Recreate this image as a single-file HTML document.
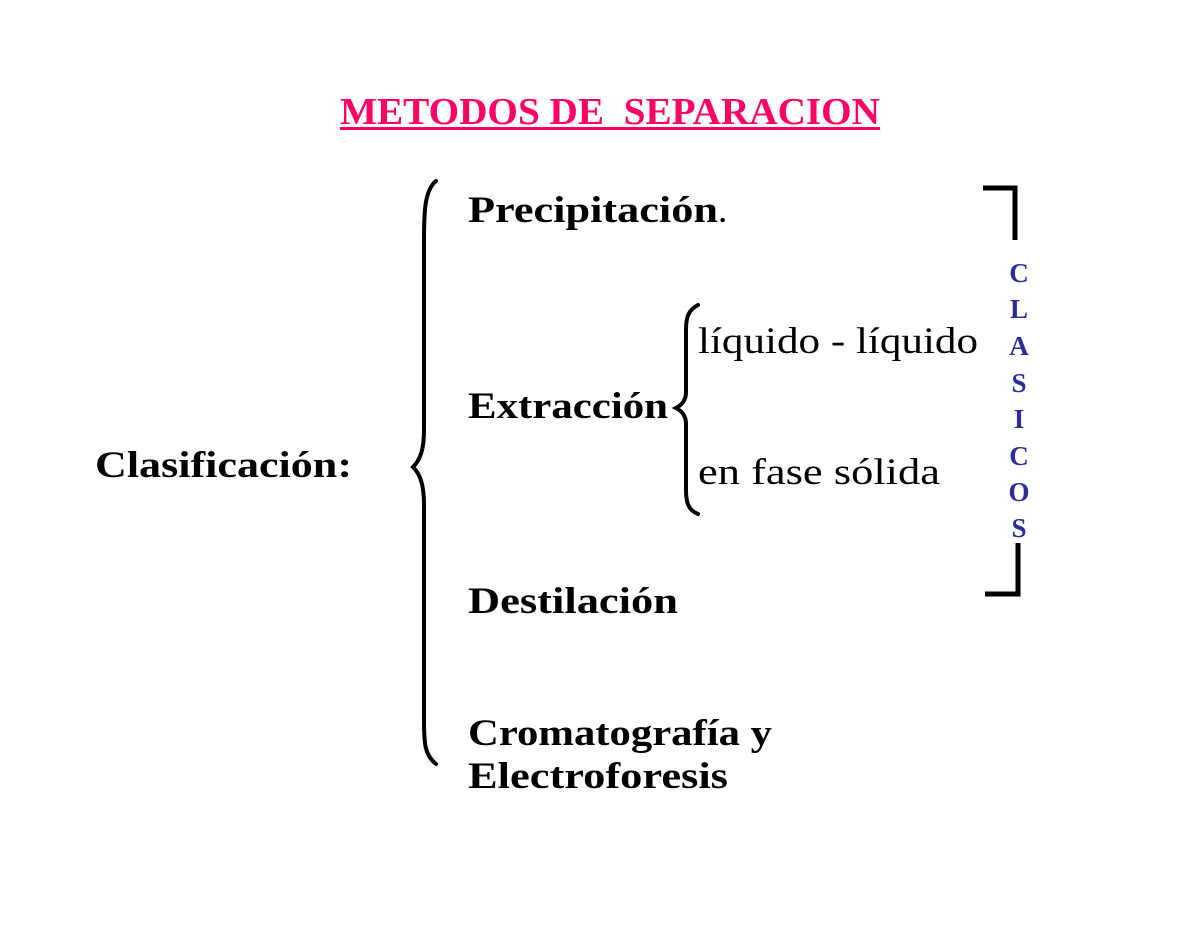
<!DOCTYPE html>
<html><head><meta charset="utf-8"><style>
html,body{margin:0;padding:0;background:#fff;}
svg{display:block;}
text{font-family:"Liberation Serif",serif;}
</style></head><body>
<svg width="1200" height="930" viewBox="0 0 1200 930" xmlns="http://www.w3.org/2000/svg">
<rect width="1200" height="930" fill="#fff"/>
<text x="340" y="124" font-size="38" font-weight="bold" fill="#ff0066" textLength="540" lengthAdjust="spacingAndGlyphs" xml:space="preserve">METODOS DE  SEPARACION</text>
<rect x="340" y="127" width="540" height="3" fill="#ff0066"/>
<g font-weight="bold" font-size="37" fill="#000">
<text x="468" y="222" textLength="250" lengthAdjust="spacingAndGlyphs">Precipitación</text>
<text x="718" y="222" font-weight="normal">.</text>
<text x="468" y="418" textLength="200" lengthAdjust="spacingAndGlyphs">Extracción</text>
<text x="95" y="477" textLength="257" lengthAdjust="spacingAndGlyphs">Clasificación:</text>
<text x="468" y="613" textLength="210" lengthAdjust="spacingAndGlyphs">Destilación</text>
<text x="468" y="745" textLength="304" lengthAdjust="spacingAndGlyphs">Cromatografía y</text>
<text x="468" y="788" textLength="260" lengthAdjust="spacingAndGlyphs">Electroforesis</text>
</g>
<g font-size="37" fill="#000">
<text x="698" y="353" textLength="280" lengthAdjust="spacingAndGlyphs">líquido - líquido</text>
<text x="698" y="484" textLength="242" lengthAdjust="spacingAndGlyphs">en fase sólida</text>
</g>
<g font-size="27" font-weight="bold" fill="#2b2b9a" text-anchor="middle">
<text x="1019" y="282">C</text>
<text x="1019" y="318">L</text>
<text x="1019" y="355">A</text>
<text x="1019" y="392">S</text>
<text x="1019" y="428">I</text>
<text x="1019" y="465">C</text>
<text x="1019" y="501">O</text>
<text x="1019" y="537">S</text>
</g>
<g fill="none" stroke="#000" stroke-width="5">
<path d="M983 188 H1015 V240"/>
<path d="M1018 543 V594 H985"/>
</g>
<g fill="none" stroke="#000" stroke-width="4" stroke-linecap="round">
<path d="M436 181 C425 190 424 210 424 240 V430 C424 450 420 460 413 467 C420 474 424 484 424 505 V720 C424 745 425 755 436 764"/>
<path d="M698 305 C688 310 686 318 686 330 V392 C686 400 682 405 676 408 C682 411 686 416 686 424 V490 C686 502 688 510 698 514"/>
</g>
</svg>
</body></html>
